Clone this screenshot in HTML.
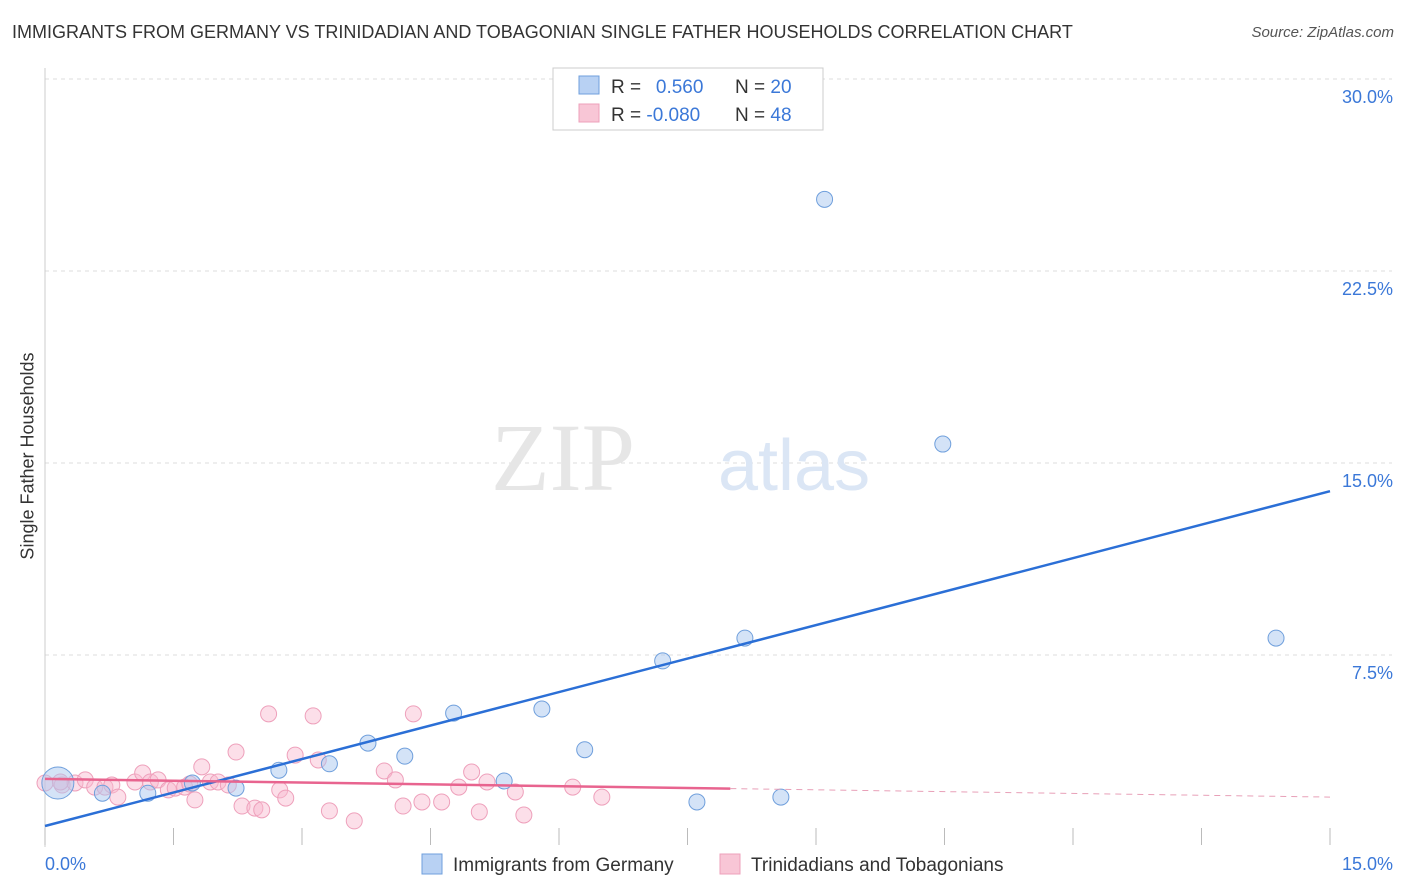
<!DOCTYPE html>
<html><head><meta charset="utf-8"><style>
body{margin:0;background:#fff;font-family:"Liberation Sans",sans-serif;}
#c{position:relative;width:1406px;height:892px;overflow:hidden}
</style></head><body>
<div id="c">
<div style="position:absolute;left:12px;top:22px;font-size:18px;color:#333">IMMIGRANTS FROM GERMANY VS TRINIDADIAN AND TOBAGONIAN SINGLE FATHER HOUSEHOLDS CORRELATION CHART</div>
<div style="position:absolute;right:12px;top:24px;font-size:15px;color:#555;font-style:italic">Source: ZipAtlas.com</div>
<div style="position:absolute;left:28px;top:456px;transform:translate(-50%,-50%) rotate(-90deg);font-size:18px;color:#333;white-space:nowrap">Single Father Households</div>
<svg id="s" width="1406" height="892" style="position:absolute;left:0;top:0"></svg>
</div>
<script>
const yTicks=[7.5,15,22.5,30];
const yTickLabels=["7.5%","15.0%","22.5%","30.0%"];
const blueX=[0.15,0.67,1.2,1.72,2.23,2.73,3.32,3.77,4.2,4.77,5.36,5.8,6.3,7.21,7.61,8.17,8.59,9.1,10.48,14.37];
const blueY=[2.5,2.1,2.1,2.5,2.3,3.0,3.25,4.06,3.55,5.23,2.58,5.39,3.8,7.27,1.76,8.16,1.95,25.3,15.74,8.16];
const pinkX=[0.0,0.2,0.35,0.47,0.58,0.7,0.78,0.85,1.05,1.14,1.23,1.32,1.44,1.52,1.63,1.75,1.83,1.93,2.02,2.14,2.23,2.3,2.45,2.53,2.61,2.74,2.81,2.92,3.13,3.19,3.32,3.61,3.96,4.09,4.18,4.3,4.4,4.63,4.83,4.98,5.07,5.16,5.49,5.59,6.16,6.5,0.18,1.69];
const pinkY=[2.5,2.42,2.5,2.62,2.34,2.34,2.42,1.95,2.54,2.89,2.54,2.62,2.23,2.3,2.34,1.84,3.13,2.54,2.54,2.42,3.71,1.6,1.52,1.45,5.2,2.23,1.91,3.59,5.12,3.4,1.41,1.02,2.97,2.62,1.6,5.2,1.76,1.76,2.34,2.93,1.37,2.54,2.15,1.25,2.34,1.95,2.54,2.46];
const blueTrend=[0,0.82,15,13.9];
const pinkTrend=[0,2.66,15,1.95];
const pinkSolidEnd=8.0;
const X=v=>45+v/15*1285, Y=v=>847-v/7.5*192;
const s=document.getElementById('s'),NS='http://www.w3.org/2000/svg';
function mk(t,a,name){const e=document.createElementNS(NS,t);for(const k in a)e.setAttribute(k,a[k]);


s.appendChild(e);return e;}
yTicks.forEach((t,i)=>{mk('line',{x1:45,x2:1392,y1:Y(t),y2:Y(t),stroke:'#ddd','stroke-dasharray':'4,4'},'gridline');
const tx=mk('text',{x:1393,y:Y(t)+24,'text-anchor':'end','font-size':18,fill:'#3b78d8'},'y-tick-label');tx.textContent=yTickLabels[i];});
mk('line',{x1:45,x2:45,y1:68,y2:847,stroke:'#ccc'},'y-axis');
for(let i=0;i<=10;i++){mk('line',{x1:X(i*1.5),x2:X(i*1.5),y1:828,y2:845,stroke:'#bbb'},'x-tick');}
let t=mk('text',{x:45,y:870,'font-size':18,fill:'#3b78d8'},'x-min-label');t.textContent='0.0%';
t=mk('text',{x:1393,y:870,'text-anchor':'end','font-size':18,fill:'#3b78d8'},'x-max-label');t.textContent='15.0%';
t=mk('text',{x:635,y:490,'text-anchor':'end','font-size':96,fill:'#e6e6e6','font-family':'Liberation Serif'},'watermark-zip');t.textContent='ZIP';
t=mk('text',{x:718,y:490,'font-size':72,fill:'#dbe6f5'},'watermark-atlas');t.textContent='atlas';
pinkX.forEach((v,i)=>mk('circle',{cx:X(v),cy:Y(pinkY[i]),r:8,fill:'rgba(248,184,206,0.45)',stroke:'#eea0bb','stroke-width':1},'pink-point'));
blueX.forEach((v,i)=>mk('circle',{cx:X(v),cy:Y(blueY[i]),r:i==0?16:8,fill:'rgba(170,200,240,0.5)',stroke:'#6f9fdc','stroke-width':1},'blue-point'));
mk('line',{x1:X(blueTrend[0]),y1:Y(blueTrend[1]),x2:X(blueTrend[2]),y2:Y(blueTrend[3]),stroke:'#2b6fd6','stroke-width':2.5},'blue-trend-line');
const py=x=>pinkTrend[1]+(pinkTrend[3]-pinkTrend[1])*(x-pinkTrend[0])/(pinkTrend[2]-pinkTrend[0]);
mk('line',{x1:X(0),y1:Y(py(0)),x2:X(pinkSolidEnd),y2:Y(py(pinkSolidEnd)),stroke:'#e8648f','stroke-width':2.5},'pink-trend-line');
mk('line',{x1:X(pinkSolidEnd),y1:Y(py(pinkSolidEnd)),x2:X(15),y2:Y(py(15)),stroke:'#e8a0b8','stroke-width':1,'stroke-dasharray':'6,5'},'pink-trend-dashed');
// top legend
mk('rect',{x:553,y:68,width:270,height:62,fill:'#fff',stroke:'#ccc'},'stats-legend');
mk('rect',{x:579,y:76,width:20,height:18,fill:'#b8d1f3',stroke:'#6f9fdc'},'legend-blue-swatch');
mk('rect',{x:579,y:104,width:20,height:18,fill:'#f8c6d6',stroke:'#eea0bb'},'legend-pink-swatch');
[[93,'0.560','20'],[121,'-0.080','48']].forEach(r=>{
 let a=mk('text',{x:611,y:r[0],'font-size':19,fill:'#333'},'legend-r');a.innerHTML='R = <tspan fill="#3b78d8">'+(r[1][0]=='-'?'':'\u2002')+r[1]+'</tspan>';
 a=mk('text',{x:735,y:r[0],'font-size':19,fill:'#333'},'legend-n');a.innerHTML='N = <tspan fill="#3b78d8">'+r[2]+'</tspan>';});
// bottom legend
mk('rect',{x:422,y:854,width:20,height:20,fill:'#b8d1f3',stroke:'#6f9fdc'},'bottom-legend-blue-swatch');
t=mk('text',{x:453,y:871,'font-size':19,fill:'#333'},'bottom-legend-blue');t.textContent='Immigrants from Germany';
mk('rect',{x:720,y:854,width:20,height:20,fill:'#f8c6d6',stroke:'#eea0bb'},'bottom-legend-pink-swatch');
t=mk('text',{x:751,y:871,'font-size':19,fill:'#333'},'bottom-legend-pink');t.textContent='Trinidadians and Tobagonians';
</script>
</body></html>
